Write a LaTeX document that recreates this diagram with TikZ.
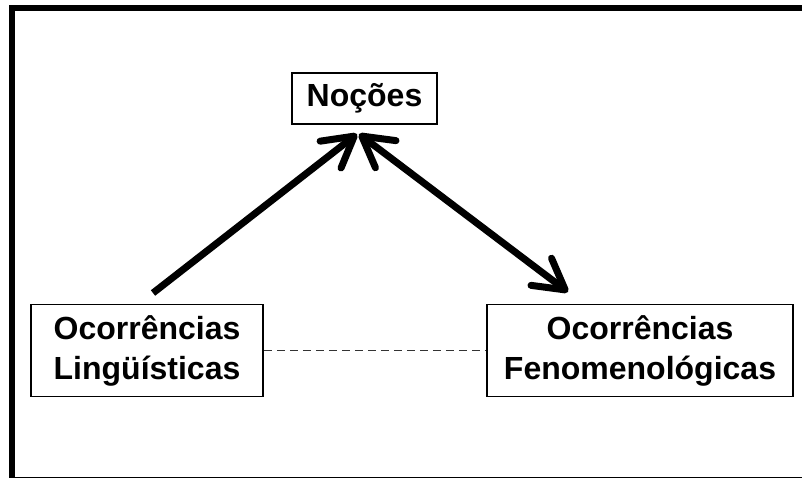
\documentclass[tikz,border=0pt]{standalone}
\usepackage{fontspec}
\setmainfont{Liberation Sans}
\usetikzlibrary{arrows.meta}
\tikzset{
  box/.style={draw=black, line width=1.5pt, inner sep=0pt, align=center,
    font=\fontsize{32}{40}\selectfont\bfseries},
  tipstyle/.style={},
  bigarrow/.style={line width=7pt, black,
    arrows={-Straight Barb[length=30pt, width=34pt, round]}},
  dblarrow/.style={line width=7pt, black,
    arrows={Straight Barb[length=30pt, width=34pt, round]-Straight Barb[length=30pt, width=34pt, round]}},
  dashline/.style={draw=black!80, line width=1pt, dash pattern=on 8pt off 5pt}
}
\begin{document}
\begin{tikzpicture}[x=1pt, y=-1pt]
\useasboundingbox (0,0) rectangle (802,478);
\begin{scope}
\clip (0,0) rectangle (802,478);
\draw[line width=6pt] (12,8) rectangle (808,479.5);
\end{scope}
\node[box, minimum width=145pt, minimum height=51pt] (nocoes) at (364.5,98.5) {No\c{c}\~oes};
\node[box, minimum width=232pt, minimum height=92pt] (ling) at (147,350.5) {Ocorr\^encias\\Ling\"u\'isticas};
\node[box, minimum width=306pt, minimum height=92pt] (fen) at (640,350.5) {Ocorr\^encias\\Fenomenol\'ogicas};
\coordinate (a1) at (153,293);
\coordinate (t1) at (357,134);
\coordinate (t2) at (359,134);
\coordinate (t3) at (568,292);
\draw[bigarrow] (a1) -- (t1);
\draw[dblarrow] (t2) -- (t3);
\draw[dashline] (ling.east) -- (fen.west);
\end{tikzpicture}
\end{document}
